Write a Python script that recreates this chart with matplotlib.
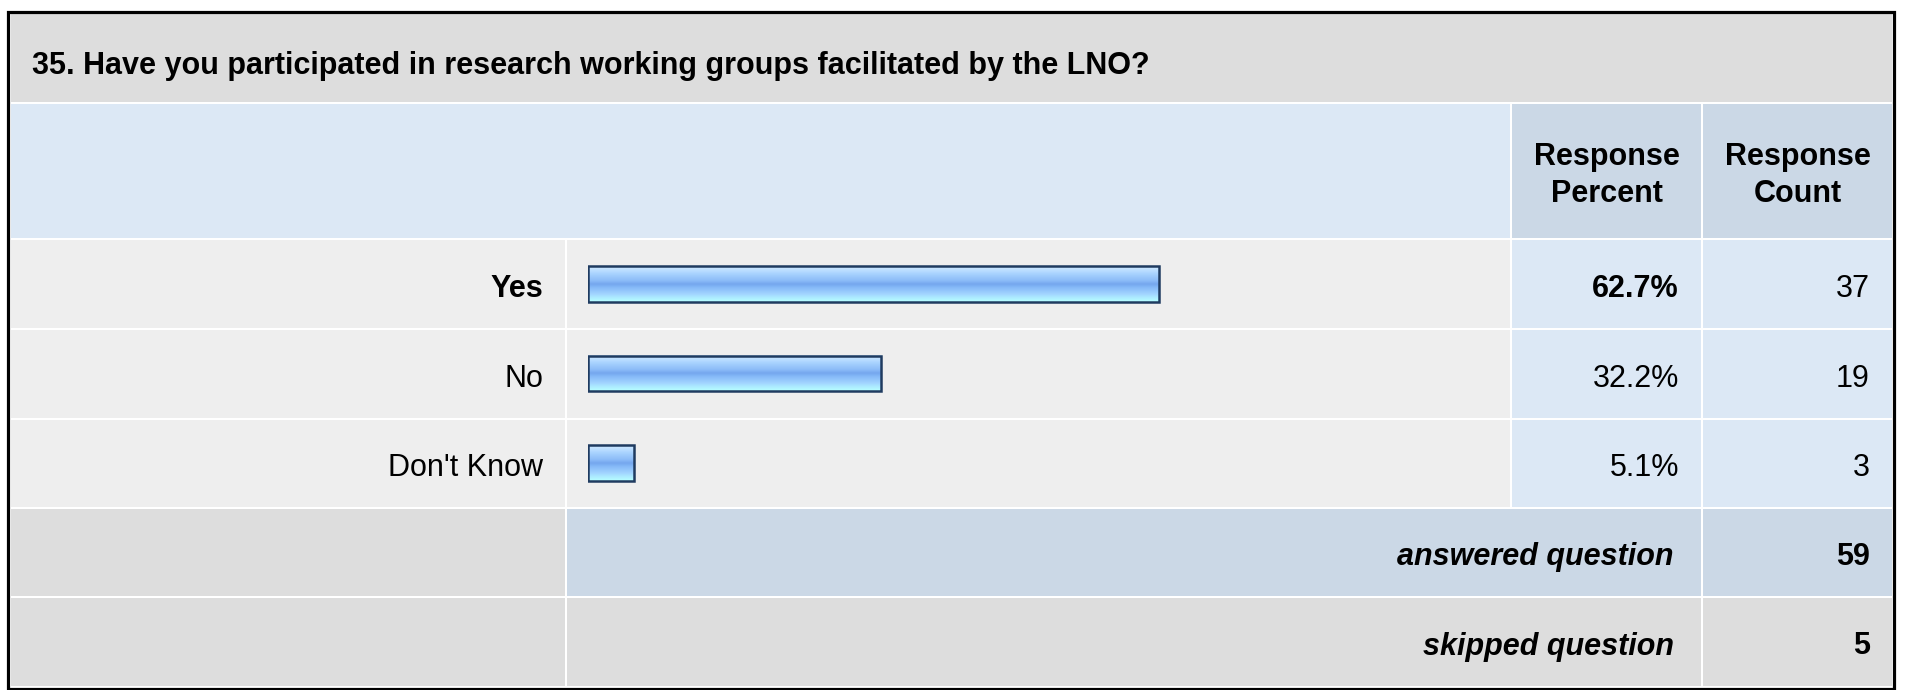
import numpy as np
import matplotlib.pyplot as plt
from matplotlib.patches import Rectangle
from matplotlib.colors import LinearSegmentedColormap

plt.rcParams['font.family'] = ['Liberation Sans', 'DejaVu Sans']

# survey results
question = '35. Have you participated in research working groups facilitated by the LNO?'
choices = ['Yes', 'No', "Don't Know"]
percents = [62.7, 32.2, 5.1]
counts = [37, 19, 3]
answered = 59
skipped = 5

W, H = 1915, 690
fig = plt.figure(figsize=(W / 100, H / 100), dpi=100, facecolor='white')
ax = fig.add_axes([0, 0, 1, 1])
ax.set_xlim(0, W)
ax.set_ylim(H, 0)
ax.axis('off')

# grid edges in pixels
cols = [10, 566, 1511, 1702, 1893]
rows = [13, 103, 239, 329, 419, 508, 597, 687]

GREY = '#dddddd'
LIGHT = '#eeeeee'
BLUE = '#dce8f5'
DBLUE = '#cbd8e6'
FS = 22


def cell(x0, x1, y0, y1, color):
    ax.add_patch(Rectangle((x0 + 1, y0 + 1), x1 - x0 - 2, y1 - y0 - 2,
                           facecolor=color, edgecolor='none'))


# title row
cell(cols[0], cols[4], rows[0] - 1, rows[1], GREY)
ax.text(32, 74, question, fontsize=22, fontweight='bold', va='baseline', ha='left')

# header row
cell(cols[0], cols[2], rows[1], rows[2], BLUE)
cell(cols[2], cols[3], rows[1], rows[2], DBLUE)
cell(cols[3], cols[4], rows[1], rows[2], DBLUE)
for c, word in [(2, 'Percent'), (3, 'Count')]:
    xc = (cols[c] + cols[c + 1]) / 2
    ax.text(xc, 165, 'Response', fontsize=FS, fontweight='bold', ha='center', va='baseline')
    ax.text(xc, 202, word, fontsize=FS, fontweight='bold', ha='center', va='baseline')

# answer rows
for i, (name, p, n) in enumerate(zip(choices, percents, counts)):
    y0, y1 = rows[2 + i], rows[3 + i]
    cell(cols[0], cols[1], y0, y1, LIGHT)
    cell(cols[1], cols[2], y0, y1, LIGHT)
    cell(cols[2], cols[3], y0, y1, BLUE)
    cell(cols[3], cols[4], y0, y1, BLUE)
    yb = (y0 + y1) / 2 + 13
    w = 'bold' if i == 0 else 'normal'
    ax.text(cols[1] - 23, yb, name, fontsize=FS, fontweight=w, ha='right', va='baseline')
    ax.text(cols[3] - 23, yb, f'{p:.1f}%', fontsize=FS, fontweight=w, ha='right', va='baseline')
    ax.text(cols[4] - 23, yb, str(n), fontsize=FS, ha='right', va='baseline')

# totals
for k, (label, val, mid) in enumerate([('answered question', answered, DBLUE),
                                       ('skipped question', skipped, GREY)]):
    y0, y1 = rows[5 + k], rows[6 + k]
    cell(cols[0], cols[1], y0, y1, GREY)
    cell(cols[1], cols[3], y0, y1, mid)
    cell(cols[3], cols[4], y0, y1, mid)
    yb = (y0 + y1) / 2 + 12.5
    ax.text(cols[3] - 28, yb, label, fontsize=FS, fontweight='bold', fontstyle='italic',
            ha='right', va='baseline')
    ax.text(cols[4] - 23, yb, str(val), fontsize=FS, fontweight='bold', ha='right', va='baseline')

# outer frame
ax.add_patch(Rectangle((8.5, 11.5), 1886, 677, facecolor='none', edgecolor='black',
                       linewidth=2.3))

# bars
bx0, bx1 = 588, 1498
bax = fig.add_axes([bx0 / W, 1 - rows[5] / H, (bx1 - bx0) / W, (rows[5] - rows[2]) / H])
bax.set_xlim(0, 100)
bax.set_ylim(len(choices) - 0.5, -0.5)
bax.axis('off')
bax.patch.set_alpha(0)

shine = LinearSegmentedColormap.from_list('shine', [
    (0.0, '#d2eaff'), (0.2, '#aad4ff'), (0.4, '#8cbcf8'), (0.5, '#74a6ee'),
    (0.6, '#86baf8'), (0.78, '#a2d4ff'), (0.9, '#aeeeff'), (1.0, '#b8ffff')])
grad = np.linspace(0, 1, 64)[:, None]
bh = 0.4
for i, p in enumerate(percents):
    bax.imshow(grad, extent=(0, p, i + bh / 2, i - bh / 2), aspect='auto', cmap=shine,
               interpolation='bilinear', zorder=1)
bax.barh(range(len(choices)), percents, height=bh, left=0, facecolor='none',
         edgecolor='#1f3b60', linewidth=1.8, zorder=2)
bax.set_xlim(0, 100)
bax.set_ylim(len(choices) - 0.5, -0.5)

fig.savefig('out.png', dpi=100, facecolor='white')
